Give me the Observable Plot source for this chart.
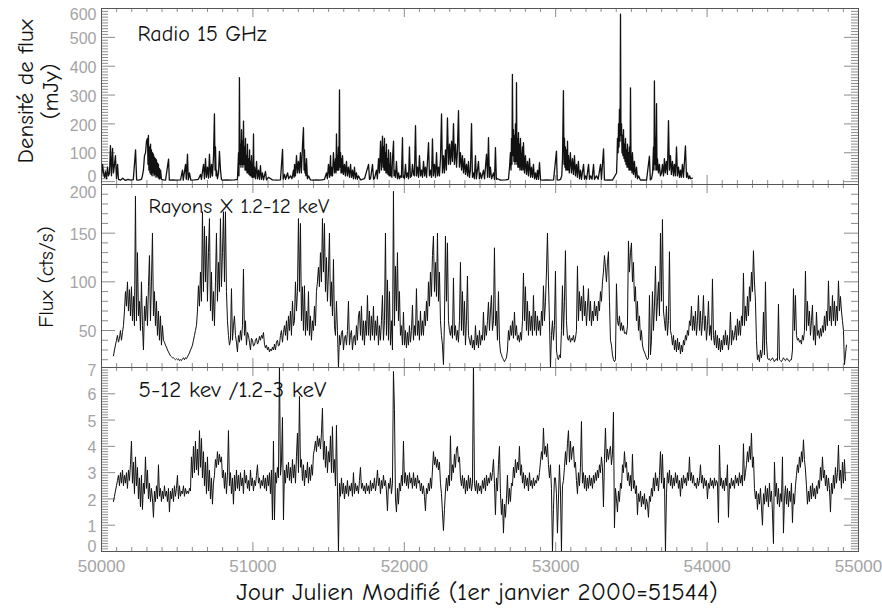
<!DOCTYPE html>
<html><head><meta charset="utf-8">
<script src="https://cdn.jsdelivr.net/npm/d3@7"></script>
<script src="https://cdn.jsdelivr.net/npm/@observablehq/plot@0.6"></script>
<style>
body{margin:0;background:#fff;}
#chart{position:relative;width:882px;height:610px;background:#fff;}
#chart svg{position:absolute;left:0;}
</style></head><body><div id="chart"></div>
<script>
// ---- Radio 15 GHz : [MJD, flux density mJy]
const radioFlux = [
[50000,20],[50007,60],[50013,30],[50020,15],[50026,35],[50033,10],[50040,50],[50046,20],[50053,30],[50059,125],[50066,20],[50073,115],[50079,30],[50086,60],[50092,90],[50099,10],[50106,60],[50112,8],[50125,5],[50140,12],[50158,4],[50175,8],[50192,5],[50210,7],[50225,110],[50232,6],[50244,5],[50264,8],[50270,20],[50277,40],[50284,90],[50291,100],[50297,140],[50304,150],[50307,60],[50310,160],[50313,40],[50317,120],[50320,30],[50324,130],[50327,25],[50330,110],[50334,20],[50337,100],[50340,30],[50343,95],[50347,20],[50350,85],[50353,25],[50357,80],[50360,15],[50363,75],[50366,20],[50370,65],[50373,15],[50376,60],[50380,10],[50383,45],[50386,10],[50390,40],[50396,8],[50410,6],[50423,5],[50443,78],[50448,5],[50470,6],[50489,5],[50522,6],[50535,40],[50540,5],[50555,60],[50560,8],[50568,95],[50573,6],[50581,30],[50590,5],[50615,6],[50640,8],[50654,25],[50660,8],[50674,60],[50680,10],[50687,80],[50693,15],[50700,50],[50707,12],[50713,95],[50720,15],[50727,60],[50733,20],[50740,90],[50746,235],[50750,40],[50753,120],[50757,20],[50760,40],[50766,10],[50773,30],[50779,105],[50786,40],[50792,8],[50799,5],[50826,6],[50852,5],[50878,6],[50898,8],[50905,100],[50908,20],[50911,360],[50915,60],[50918,130],[50921,50],[50925,180],[50928,60],[50931,140],[50934,50],[50938,210],[50941,60],[50944,120],[50948,40],[50951,150],[50954,40],[50958,90],[50961,30],[50964,130],[50967,30],[50971,80],[50974,25],[50978,110],[50981,20],[50984,70],[50988,20],[50991,90],[50994,15],[50997,60],[51000,15],[51004,165],[51007,15],[51011,50],[51017,10],[51024,70],[51030,10],[51037,40],[51043,8],[51050,55],[51056,8],[51063,30],[51070,6],[51083,35],[51090,6],[51103,15],[51129,6],[51156,5],[51182,6],[51196,112],[51200,8],[51209,25],[51216,8],[51229,30],[51236,10],[51248,20],[51258,10],[51268,40],[51272,15],[51275,60],[51281,20],[51288,90],[51294,30],[51301,70],[51307,30],[51314,100],[51320,30],[51328,130],[51334,187],[51338,40],[51341,110],[51344,30],[51347,60],[51350,20],[51354,80],[51360,10],[51367,20],[51380,6],[51394,5],[51420,6],[51446,5],[51473,8],[51486,30],[51492,10],[51499,60],[51506,15],[51513,90],[51516,20],[51519,50],[51526,20],[51532,100],[51539,30],[51546,80],[51549,30],[51552,165],[51556,40],[51559,90],[51562,40],[51565,120],[51568,40],[51572,318],[51575,50],[51579,100],[51582,30],[51585,80],[51588,30],[51592,90],[51598,25],[51605,60],[51611,20],[51618,70],[51624,20],[51631,50],[51638,15],[51645,60],[51651,15],[51658,40],[51664,10],[51671,50],[51677,10],[51684,30],[51690,8],[51697,20],[51711,6],[51737,10],[51764,60],[51770,8],[51777,10],[51790,60],[51797,8],[51803,10],[51816,40],[51822,10],[51830,80],[51836,30],[51843,140],[51849,40],[51856,158],[51860,50],[51863,120],[51866,40],[51869,150],[51872,40],[51876,100],[51879,30],[51882,130],[51885,30],[51889,80],[51892,25],[51896,110],[51899,20],[51902,60],[51906,20],[51909,100],[51912,20],[51915,50],[51918,15],[51922,80],[51929,140],[51932,20],[51935,40],[51942,15],[51948,70],[51955,10],[51962,30],[51968,10],[51975,20],[51981,15],[51988,152],[51992,15],[51995,20],[52001,10],[52008,60],[52014,15],[52021,30],[52028,10],[52034,120],[52040,15],[52048,20],[52054,60],[52061,25],[52067,20],[52074,194],[52080,20],[52087,50],[52094,15],[52100,90],[52107,20],[52114,40],[52120,15],[52127,70],[52134,20],[52140,50],[52147,15],[52160,135],[52166,20],[52173,40],[52180,15],[52186,148],[52192,20],[52199,60],[52206,15],[52213,100],[52219,20],[52226,50],[52232,20],[52239,80],[52246,235],[52252,30],[52259,90],[52265,30],[52272,110],[52278,40],[52285,221],[52292,60],[52299,130],[52305,60],[52312,140],[52318,70],[52325,201],[52331,60],[52338,130],[52345,50],[52351,110],[52358,246],[52364,50],[52371,100],[52378,40],[52384,90],[52391,30],[52398,80],[52404,25],[52411,60],[52418,20],[52424,70],[52430,15],[52437,40],[52444,201],[52450,15],[52457,30],[52463,10],[52470,90],[52476,10],[52490,70],[52496,10],[52503,30],[52510,10],[52523,40],[52530,10],[52543,95],[52550,15],[52556,152],[52562,15],[52569,50],[52576,10],[52589,30],[52596,8],[52602,118],[52608,8],[52616,10],[52635,5],[52668,6],[52688,8],[52695,50],[52701,100],[52705,40],[52708,150],[52711,60],[52714,372],[52718,90],[52721,180],[52724,70],[52728,160],[52731,60],[52734,200],[52738,70],[52741,343],[52744,60],[52747,150],[52750,50],[52754,170],[52757,50],[52761,130],[52764,40],[52767,150],[52774,40],[52781,120],[52784,40],[52787,135],[52794,30],[52800,90],[52807,25],[52814,70],[52820,20],[52827,80],[52834,15],[52840,50],[52847,15],[52853,60],[52860,10],[52867,30],[52873,8],[52880,40],[52886,8],[52893,66],[52900,6],[52913,5],[52939,6],[52966,5],[52986,6],[53005,106],[53010,6],[53018,5],[53032,8],[53040,20],[53045,80],[53051,315],[53055,60],[53058,150],[53061,50],[53064,120],[53067,40],[53071,110],[53074,40],[53078,140],[53081,40],[53084,90],[53090,30],[53097,100],[53104,30],[53111,80],[53117,25],[53124,90],[53130,20],[53137,60],[53143,15],[53150,70],[53157,10],[53164,40],[53170,8],[53184,60],[53190,8],[53197,20],[53204,8],[53217,60],[53223,8],[53230,20],[53240,8],[53250,60],[53256,8],[53269,20],[53280,8],[53296,60],[53302,8],[53316,113],[53322,6],[53329,5],[53349,6],[53375,5],[53402,30],[53405,80],[53408,150],[53412,100],[53415,200],[53418,120],[53421,250],[53425,140],[53428,580],[53431,160],[53435,200],[53438,100],[53441,160],[53444,90],[53448,180],[53451,80],[53454,130],[53458,70],[53461,150],[53464,60],[53468,110],[53471,50],[53474,130],[53478,50],[53481,100],[53484,40],[53487,120],[53491,40],[53494,325],[53498,40],[53501,90],[53504,30],[53507,100],[53514,25],[53520,70],[53527,15],[53534,50],[53540,10],[53547,20],[53560,5],[53573,6],[53600,5],[53619,88],[53625,6],[53633,10],[53640,30],[53646,120],[53649,40],[53652,349],[53656,60],[53659,150],[53662,40],[53666,270],[53669,40],[53672,80],[53679,30],[53685,60],[53692,20],[53699,30],[53705,60],[53712,20],[53718,80],[53724,30],[53731,70],[53738,25],[53745,211],[53751,40],[53758,90],[53764,25],[53771,70],[53778,20],[53784,60],[53791,20],[53798,120],[53804,20],[53811,50],[53818,15],[53824,40],[53830,15],[53837,60],[53844,15],[53857,124],[53864,15],[53870,30],[53877,10],[53885,20],[53890,10],[53903,12]
];

// ---- X-ray and hardness series: one value per 6.6-day bin, first bin at MJD 50079
const binStartMJD = 50079;
const binDays = 6.605;
const xrayFlux = [
24,30,35,40,45,38,42,50,40,48, 55,70,90,75,100,70,92,65,95,60, 85,55,188,60,130,65,80,50,100,55,
30,75,60,85,55,95,127,60,100,150, 65,90,55,80,45,70,40,65,35,55, 40,38,35,33,30,28,26,24,23,22,
22,21,20,21,20,21,19,20,19,21, 22,20,22,21,23,25,27,30,32,35, 40,45,50,55,70,96,75,110,80,172,
90,157,100,147,80,130,165,70,110,60, 90,55,100,150,80,120,90,165,95,130, 172,100,172,90,60,45,35,40,93,40,
55,65,45,38,28,45,38,50,40,55, 113,45,60,35,48,45,38,30,42,40, 34,35,40,42,36,38,44,40,45,42,
48,36,32,35,30,33,28,31,29,33, 30,36,30,38,40,34,35,45,50,38, 48,55,45,60,40,65,50,70,45,80,
55,60,100,70,90,165,90,160,60,95, 50,96,45,70,50,90,45,65,40,60, 50,75,55,90,100,115,95,130,100,165,
110,160,90,125,80,110,150,75,100,65, 123,55,45,80,50,12,45,35,48,50, 30,42,45,35,50,80,35,45,50,30,
42,45,35,55,40,65,70,45,75,40, 60,35,60,45,86,45,70,40,65,45, 75,40,60,45,65,35,55,40,60,86,
40,60,150,45,102,40,90,35,60,30, 193,55,116,70,130,60,90,45,55,35, 69,35,50,32,48,35,55,38,50,76,
40,55,45,93,45,60,40,70,45,60, 45,70,55,80,60,100,75,110,85,127, 147,90,120,85,150,80,110,60,45,35,
15,60,147,80,140,60,50,45,55,42, 104,45,55,40,50,38,60,120,50,90, 45,80,35,60,106,45,40,35,45,32,
40,30,55,35,45,32,50,35,45,40, 69,40,55,45,60,79,50,70,86,50, 60,135,55,70,40,90,40,28,25,22,
20,18,20,22,30,50,40,55,45,60, 42,69,45,55,40,45,38,48,40,60, 109,60,95,50,80,45,70,50,65,45,
86,50,70,45,65,50,60,45,70,55, 96,60,80,110,150,100,60,12,45,60, 40,55,111,30,22,20,25,22,50,96,
45,80,132,60,42,40,45,38,42,40, 45,38,42,50,116,60,90,70,85,60, 96,65,80,55,75,93,60,80,55,70,
60,80,65,75,60,80,70,90,80,100, 110,127,115,100,120,131,80,40,35,25, 20,18,20,98,60,55,65,50,58,50,
55,47,48,46,55,142,110,130,140,100, 120,80,95,60,80,50,65,40,50,35, 30,28,25,22,20,22,86,25,40,90,
50,75,116,60,80,100,65,150,80,164, 70,60,50,75,45,60,131,50,45,35, 45,30,40,28,42,30,38,26,35,28,
40,35,45,40,50,45,60,55,75,50, 65,50,70,45,60,86,50,70,45,60, 86,50,65,40,55,80,45,55,40,103,
45,35,50,32,45,30,42,28,40,30, 45,35,50,35,45,30,40,69,35,50, 40,45,55,40,62,45,60,45,65,55,
109,55,75,60,85,65,95,80,110,90, 132,100,80,40,20,25,18,30,22,30, 69,25,100,40,22,20,21,19,20,22,
20,18,20,21,19,77,20,19,18,20, 22,20,19,21,21,19,18,20,20,30, 93,50,86,45,40,42,38,40,36,45,
40,50,111,50,80,55,70,45,60,76, 40,55,35,69,45,50,42,52,44,55, 48,65,50,70,55,101,60,75,55,86,
60,80,55,75,60,101,70,85,70,60, 50,15,25,35
];
const hardnessRatio = [
1.9,2.1,2.3,2.5,2.7,2.9,2.5,3.0,2.6,3.1, 2.5,2.9,2.6,3.0,2.4,3.1,2.7,3.3,4.2,2.6, 3.4,2.2,3.6,2.5,3.2,2.0,2.8,1.7,2.9,1.6,
2.6,2.2,3.6,2.4,3.1,2.0,2.6,1.9,2.4,2.0, 1.3,2.3,1.9,2.5,2.0,3.3,2.1,2.4,1.9,2.3, 2.0,2.5,2.1,2.3,1.9,2.4,1.5,2.3,2.0,2.4,
1.9,2.5,2.1,2.4,2.9,2.0,2.5,2.1,2.3,2.2, 2.5,2.1,2.4,2.2,2.3,2.2,2.4,2.3,3.6,2.8, 4.0,3.0,4.2,3.1,3.9,2.9,4.6,3.2,4.3,2.8,
3.8,2.5,3.4,2.2,3.6,2.3,3.1,2.0,2.8,1.8, 2.6,2.9,3.5,3.2,3.8,3.3,3.7,3.4,3.6,2.8, 3.1,2.4,3.0,2.2,2.9,4.6,2.5,3.0,2.2,2.8,
1.8,2.9,2.3,3.1,2.4,2.9,2.3,3.0,2.5,2.8, 2.2,3.1,2.6,2.9,2.4,2.7,2.3,3.1,2.5,2.8, 2.3,2.7,2.5,2.9,3.3,2.6,2.8,2.4,2.7,2.5,
2.9,2.4,2.8,2.3,2.9,2.5,3.0,2.2,3.1,1.2, 4.2,1.2,3.0,2.6,3.2,2.8,7.2,2.9,3.4,5.1, 1.2,3.1,2.6,3.3,2.8,3.4,2.7,3.2,2.6,3.5,
2.8,3.3,2.6,3.6,4.5,3.0,5.9,3.2,3.5,2.7, 3.3,2.5,3.1,2.8,3.4,2.6,3.2,2.7,3.3,2.9, 3.7,3.9,4.2,3.8,4.4,4.0,4.3,3.9,4.5,5.45,
3.5,4.2,3.2,4.0,3.0,3.8,3.4,4.4,3.0,4.75, 3.0,3.5,2.5,4.8,2.3,0.0,2.6,2.1,2.8,2.2, 2.6,2.0,2.5,2.2,2.7,2.1,2.5,2.3,2.6,2.1,
3.0,2.2,2.6,2.3,2.5,2.2,2.7,3.2,2.4,2.6, 2.3,2.5,2.2,2.6,2.3,2.5,2.2,2.7,2.3,2.6, 2.4,2.8,2.3,2.6,3.1,2.5,2.8,2.2,2.7,2.4,
2.9,2.5,2.7,2.3,1.55,2.6,2.4,2.8,2.2,2.6, 6.85,5.4,2.0,1.5,2.4,1.8,2.6,2.3,2.9,2.5, 4.2,2.6,3.0,2.5,2.9,2.4,3.0,2.6,2.8,2.4,
3.0,2.5,2.8,2.4,2.9,2.6,2.7,2.3,2.6,2.2, 2.5,2.1,1.55,2.4,2.2,2.6,2.3,2.8,2.4,3.1, 3.8,3.3,3.6,3.2,3.5,3.1,3.4,2.6,2.2,1.5,
0.8,1.6,2.3,2.8,2.3,2.9,2.5,4.4,2.7,3.3, 3.0,3.7,3.2,3.9,4.0,3.4,3.6,2.8,2.5,2.9, 2.4,2.8,2.2,2.7,2.3,2.9,2.4,2.8,2.3,2.6,
7.2,2.6,2.3,2.7,2.2,2.6,2.3,2.5,2.2,2.7, 2.4,2.8,2.3,2.9,2.5,2.8,2.6,3.0,2.7,3.0, 3.5,2.6,1.4,2.8,2.3,3.3,4.0,2.2,1.4,2.0,
0.7,1.8,1.3,2.0,2.9,1.8,2.4,1.9,2.6,2.5, 3.2,2.8,3.5,3.0,3.4,3.1,4.0,2.9,3.3,2.6, 3.0,2.4,2.9,2.5,2.8,2.3,3.0,2.5,2.7,2.4,
2.8,2.5,2.7,2.6,2.9,2.7,3.0,3.4,3.8,3.5, 4.7,3.7,4.0,3.6,4.1,3.3,2.8,3.3,2.4,0.0, 1.6,2.8,2.8,2.2,0.7,2.0,3.3,2.3,0.0,2.5,
2.7,3.2,3.8,3.3,4.1,4.6,3.4,4.2,3.5,3.9, 4.0,3.2,3.4,2.7,2.2,3.0,2.5,3.2,4.95,2.6, 3.0,2.4,2.9,2.3,2.8,2.4,2.9,2.5,2.8,2.4,
2.9,2.6,3.0,2.7,3.1,2.8,3.3,3.0,3.6,3.2, 1.7,3.5,4.7,3.4,3.9,3.5,3.8,4.0,3.3,3.7, 5.3,0.9,2.4,2.0,1.5,2.3,1.9,2.6,2.4,3.3,
3.0,3.8,3.2,3.4,2.7,3.0,2.5,2.9,2.3,3.7, 2.4,2.7,2.2,2.5,1.4,2.2,1.9,2.3,1.7,2.1, 1.8,2.2,1.6,2.0,1.8,1.3,2.1,1.9,2.4,2.1,
2.8,2.3,3.0,2.5,2.8,2.3,2.9,3.8,2.6,3.7, 2.4,2.8,0.0,2.2,3.0,2.6,3.1,2.5,2.9,2.4, 2.8,2.5,3.0,2.6,2.9,2.4,2.7,2.1,2.8,2.4,
2.9,2.6,2.8,2.5,3.0,2.7,3.6,2.7,3.0,2.6, 2.9,2.5,2.6,2.4,2.8,2.5,2.7,3.3,2.6,2.9, 2.4,2.8,2.5,2.7,2.0,2.6,2.4,2.8,2.5,2.7,
2.4,2.8,2.5,2.7,2.6,1.1,4.05,2.5,2.8,2.4, 2.7,2.3,2.8,2.5,3.3,1.3,2.6,2.4,2.8,2.5, 2.7,2.4,2.9,2.6,2.8,2.5,3.0,2.6,2.9,2.5,
4.1,2.7,3.0,3.3,3.8,3.4,4.0,3.5,4.5,3.2, 3.6,2.4,2.0,2.3,1.6,2.2,1.8,2.4,1.7,1.0, 2.2,1.8,2.5,1.9,2.4,1.7,2.6,1.9,2.3,1.5,
0.3,3.4,2.1,2.6,1.8,2.4,1.7,2.2,1.9,3.6, 0.7,2.0,2.5,1.8,2.4,1.7,2.3,1.9,2.6,1.1, 2.2,1.8,2.5,2.9,3.3,3.0,3.6,3.2,3.8,3.4,
4.25,3.5,3.1,2.5,1.8,2.3,1.9,2.5,2.0,2.6, 2.1,2.4,2.0,2.5,2.2,2.7,2.4,3.2,2.7,3.6, 2.8,3.1,2.5,2.9,2.3,2.8,2.4,1.5,2.6,2.2,
2.9,2.4,3.2,2.6,3.0,4.05,2.7,3.1,2.4,3.4, 2.6,3.5,2.7
];

// ---- axes and labels
const xDomain = [50000, 55000];
const xTickDays = [50000, 51000, 52000, 53000, 54000, 55000];
const radioTicks = [0, 100, 200, 300, 400, 500, 600];
const xrayTicks = [50, 100, 150, 200];
const ratioTicks = [0, 1, 2, 3, 4, 5, 6, 7];
const panelNames = ["Radio 15 GHz", "Rayons X 1.2-12 keV", "5-12 kev /1.2-3 keV"];
const radioTitle = "Densité de flux\n(mJy)";
const xrayTitle = "Flux (cts/s)";
const xTitle = "Jour Julien Modifié (1er janvier 2000=51544)";

// ---- layout
const W = 882, ML = 101, MR = 24, innerW = W - ML - MR;
const comic = "'Comic Sans MS','Comic Neue','Open Sans',sans-serif";
const helv = "'Liberation Sans',Arial,Helvetica,sans-serif";
const tickCol = "#8c8c8c", labelCol = "#a4a4a4";

const xMinorDays = d3.range(501, 550).map(i => i * 100).filter(d => d % 1000 !== 0);
const radioMinor = d3.range(1, 60).filter(i => i % 10).map(i => i * 10);
const xrayMinor = d3.range(2, 20).filter(i => i % 5).map(i => i * 10);
const ratioMinor = d3.range(1, 70).filter(i => i % 10).map(i => i / 10);

const xrayRows = xrayFlux.map((v, i) => [binStartMJD + i * binDays, v]);
const ratioRows = hardnessRatio.map((v, i) => [binStartMJD + i * binDays, v]);

function tickMarks(major, minor, innerH) {
  return [
    Plot.ruleY(major, {insetRight: innerW - 14, stroke: tickCol}),
    Plot.ruleY(major, {insetLeft: innerW - 14, stroke: tickCol}),
    Plot.ruleY(minor, {insetRight: innerW - 7, stroke: tickCol}),
    Plot.ruleY(minor, {insetLeft: innerW - 7, stroke: tickCol}),
    Plot.ruleX(xTickDays, {insetBottom: innerH - 9, stroke: tickCol}),
    Plot.ruleX(xTickDays, {insetTop: innerH - 9, stroke: tickCol}),
    Plot.ruleX(xMinorDays, {insetBottom: innerH - 4, stroke: tickCol}),
    Plot.ruleX(xMinorDays, {insetTop: innerH - 4, stroke: tickCol})
  ];
}
// IDL-style labels: top label pushed down, bottom label pushed up
function yLabels(ticks, topDy, bottomDy) {
  const opts = {tickSize: 0, tickPadding: 5, fontSize: 16, color: labelCol, fontFamily: helv, label: null};
  const top = ticks[ticks.length - 1], bottom = ticks[0];
  return [
    Plot.axisY(ticks.filter(t => t !== top && t !== bottom), {...opts, dy: 1.5}),
    Plot.axisY([top], {...opts, dy: topDy}),
    Plot.axisY([bottom], {...opts, dy: bottomDy})
  ];
}
const common = {width: W, marginLeft: ML, marginRight: MR, style: {overflow: "visible", background: "transparent"}};

const p1 = Plot.plot({
  ...common, height: 184, marginTop: 8, marginBottom: 0,
  x: {domain: xDomain, axis: null},
  y: {domain: [-10, 600]},
  marks: [
    ...tickMarks(radioTicks, radioMinor, 176),
    Plot.line(radioFlux, {stroke: "#111", strokeWidth: 1.3, clip: true}),
    Plot.frame({stroke: "#555"}),
    ...yLabels(radioTicks, 6, -5),
    Plot.text([panelNames[0]], {text: d => d, frameAnchor: "top-left", dx: 36, dy: 25, textAnchor: "start", lineAnchor: "middle", fontSize: 22, fontFamily: comic, fill: "#111"}),
    Plot.text([radioTitle], {text: d => d, frameAnchor: "left", dx: -64, dy: -5, rotate: -90, lineHeight: 1.1, textAnchor: "middle", lineAnchor: "middle", fontSize: 23, fontFamily: comic, fill: "#111"})
  ]
});
const p2 = Plot.plot({
  ...common, height: 183, marginTop: 0, marginBottom: 0,
  x: {domain: xDomain, axis: null},
  y: {domain: [12, 200]},
  marks: [
    ...tickMarks(xrayTicks, xrayMinor, 183),
    Plot.line(xrayRows, {stroke: "#111", strokeWidth: 1, clip: true}),
    Plot.frame({stroke: "#555"}),
    ...yLabels(xrayTicks, 8, 1.5),
    Plot.text([panelNames[1]], {text: d => d, frameAnchor: "top-left", dx: 47, dy: 22, textAnchor: "start", lineAnchor: "middle", fontSize: 21, fontFamily: comic, fill: "#111"}),
    Plot.text([xrayTitle], {text: d => d, frameAnchor: "left", dx: -55, dy: 1, rotate: -90, textAnchor: "middle", lineAnchor: "middle", fontSize: 21, fontFamily: comic, fill: "#111"})
  ]
});
const p3 = Plot.plot({
  ...common, height: 243, marginTop: 0, marginBottom: 59,
  x: {domain: xDomain},
  y: {domain: [0, 7]},
  marks: [
    ...tickMarks(ratioTicks, ratioMinor, 184),
    Plot.line(ratioRows, {stroke: "#111", strokeWidth: 1, clip: true}),
    Plot.frame({stroke: "#555"}),
    ...yLabels(ratioTicks, 3, -5),
    Plot.axisX(xTickDays, {tickSize: 0, tickPadding: 8, tickFormat: d3.format("d"), fontSize: 17, color: labelCol, fontFamily: helv, label: null}),
    Plot.text([panelNames[2]], {text: d => d, frameAnchor: "top-left", dx: 37, dy: 22, textAnchor: "start", lineAnchor: "middle", fontSize: 23, fontFamily: comic, fill: "#111"}),
    Plot.text([xTitle], {text: d => d, frameAnchor: "bottom", dx: -3, dy: 40, textAnchor: "middle", lineAnchor: "middle", fontSize: 25, fontFamily: comic, fill: "#111"})
  ]
});
const chart = document.getElementById("chart");
[[p1, 0], [p2, 184], [p3, 367]].forEach(([el, top]) => { el.style.top = top + "px"; chart.appendChild(el); });
</script></body></html>
